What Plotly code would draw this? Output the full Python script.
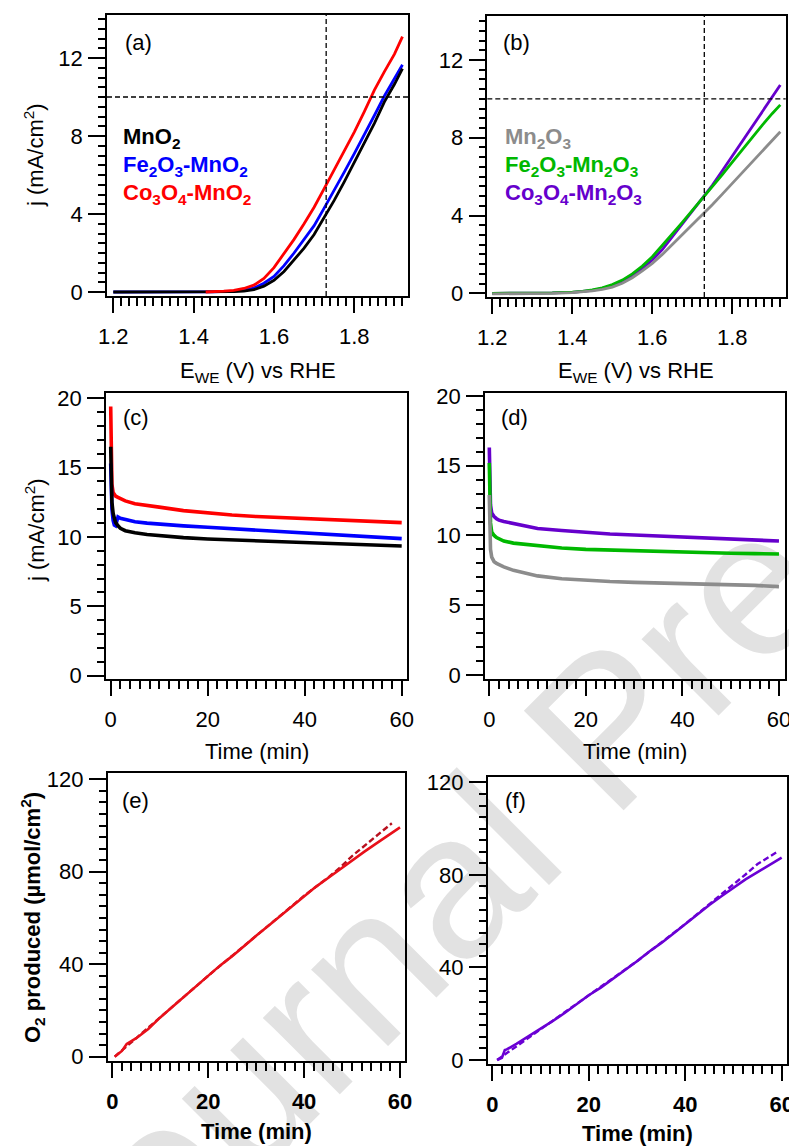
import plotly.graph_objects as go

# ---------------- data ----------------
ref_E = 1.73   # V vs RHE (dashed vertical line)
ref_j = 10     # mA/cm2 (dashed horizontal line)

# (a) LSV
E_a = [1.20, 1.30, 1.40, 1.45, 1.50, 1.525, 1.55, 1.575, 1.60, 1.625, 1.65, 1.675,
       1.70, 1.725, 1.75, 1.775, 1.80, 1.825, 1.85, 1.875, 1.90, 1.92]
j_MnO2 = [0, 0, 0, 0.005, 0.02, 0.05, 0.12, 0.3, 0.6, 1.05, 1.65, 2.25,
          2.95, 3.8, 4.7, 5.65, 6.65, 7.65, 8.65, 9.75, 10.65, 11.45]
j_Fe_MnO2 = [0, 0, 0, 0.005, 0.04, 0.1, 0.2, 0.45, 0.8, 1.35, 2.0, 2.7,
             3.4, 4.3, 5.2, 6.15, 7.1, 8.05, 9.05, 10.05, 10.9, 11.65]
E_a_red = [1.43, 1.45, 1.475, 1.50, 1.525, 1.55, 1.575, 1.60, 1.625, 1.65, 1.675,
           1.70, 1.725, 1.75, 1.775, 1.80, 1.825, 1.85, 1.875, 1.90, 1.92]
j_Co_MnO2 = [0.0, 0.01, 0.04, 0.08, 0.18, 0.35, 0.7, 1.25, 1.95, 2.7, 3.5,
             4.35, 5.3, 6.25, 7.2, 8.2, 9.25, 10.35, 11.3, 12.2, 13.1]

# (b) LSV
E_b = [1.20, 1.25, 1.30, 1.35, 1.40, 1.425, 1.45, 1.475, 1.50, 1.525, 1.55, 1.575, 1.60,
       1.625, 1.65, 1.675, 1.70, 1.725, 1.75, 1.775, 1.80, 1.825, 1.85, 1.875, 1.90, 1.92]
j_Mn2O3 = [-0.03, -0.03, -0.02, 0, 0.04, 0.07, 0.12, 0.2, 0.32, 0.52, 0.8, 1.15, 1.54,
           2.0, 2.5, 3.0, 3.55, 4.05, 4.55, 5.1, 5.65, 6.2, 6.75, 7.3, 7.85, 8.31]
j_Fe_Mn2O3 = [0, 0, 0.01, 0.02, 0.06, 0.1, 0.18, 0.28, 0.45, 0.68, 1.0, 1.4, 1.88,
              2.45, 3.05, 3.65, 4.25, 4.85, 5.45, 6.1, 6.75, 7.4, 8.05, 8.65, 9.25, 9.69]
j_Co_Mn2O3 = [0, 0, 0.01, 0.02, 0.05, 0.09, 0.15, 0.25, 0.4, 0.62, 0.92, 1.28, 1.71,
              2.25, 2.9, 3.55, 4.2, 4.85, 5.55, 6.3, 7.05, 7.8, 8.6, 9.35, 10.1, 10.71]

# (c), (d) chronoamperometry
t_ca = [0, 0.1, 0.25, 0.5, 0.75, 1, 1.5, 2, 3, 5, 7.5, 10, 15, 20, 25, 30, 35, 40, 45, 50, 55, 60]
ca_Co_MnO2 = [19.4, 15.5, 13.8, 13.2, 13.05, 12.95, 12.85, 12.75, 12.6, 12.4, 12.25, 12.15,
              11.9, 11.72, 11.58, 11.47, 11.4, 11.32, 11.25, 11.18, 11.1, 11.03]
ca_Fe_MnO2 = [15.3, 13.5, 12.0, 11.2, 10.85, 10.8, 11.45, 11.35, 11.25, 11.1, 11.0, 10.92,
              10.8, 10.7, 10.6, 10.5, 10.42, 10.33, 10.23, 10.13, 10.0, 9.88]
ca_MnO2 = [16.5, 13.8, 12.5, 11.7, 11.3, 11.05, 10.8, 10.62, 10.45, 10.3, 10.18, 10.1,
           9.95, 9.85, 9.78, 9.73, 9.69, 9.62, 9.55, 9.46, 9.4, 9.35]
ca_Co_Mn2O3 = [16.3, 13.5, 12.2, 11.6, 11.45, 11.35, 11.2, 11.1, 11.0, 10.85, 10.65, 10.5,
               10.35, 10.2, 10.1, 10.03, 9.95, 9.87, 9.8, 9.73, 9.66, 9.6]
ca_Fe_Mn2O3 = [15.2, 12.5, 10.9, 10.25, 10.1, 10.0, 9.85, 9.75, 9.6, 9.45, 9.35, 9.25,
               9.1, 9.0, 8.95, 8.9, 8.85, 8.78, 8.74, 8.72, 8.7, 8.67]
ca_Mn2O3 = [12.9, 10.5, 9.0, 8.45, 8.25, 8.12, 8.0, 7.9, 7.75, 7.5, 7.3, 7.1,
            6.9, 6.77, 6.7, 6.64, 6.6, 6.57, 6.54, 6.5, 6.42, 6.33]

# (e), (f) O2 produced
t_e = [0.5, 2, 3, 5, 7.5, 10, 12.5, 15, 17.5, 20, 22.5, 25, 27.5, 30, 32.5, 35,
       37.5, 40, 42.5, 45, 47.5, 50, 52.5, 55, 57.5, 60]
o2_e = [0, 2.5, 5.5, 8, 12, 17, 21.5, 26, 30.5, 35, 39.5, 43.5, 48, 52.3, 56.5, 60.8,
        65.2, 69.6, 73.6, 77.3, 81.2, 85, 88.6, 92.2, 95.7, 99.2]
t_e_d = [0.5, 10, 20, 30, 40, 45, 47.5, 50, 52.5, 55, 57.5, 58.3]
o2_e_d = [0, 17, 35, 52.3, 69.6, 77.5, 81.8, 86.8, 91.2, 95.6, 99.9, 101.0]
t_f = [1, 2, 2.6, 3, 5, 7.5, 10, 12.5, 15, 17.5, 20, 22.5, 25, 27.5, 30, 32.5, 35,
       37.5, 40, 42.5, 45, 47.5, 50, 52.5, 55, 57.5, 60]
o2_f = [0, 1, 4.3, 4.6, 7, 10.3, 13.3, 16.8, 20.3, 24.2, 28, 31.3, 35, 38.8, 42.7, 46.8,
        50.5, 54.6, 58.8, 63, 67, 70.8, 74.6, 78.1, 81.2, 84.4, 87.5]
t_f_d = [1, 10, 20, 30, 40, 45, 47.5, 50, 52.5, 55, 57.5, 59.3]
o2_f_d = [0, 13.3, 28, 42.7, 58.8, 67.3, 71.5, 75.8, 80.2, 84.7, 88.0, 90.3]

# ---------------- style ----------------
OFF = 8                      # page body margin of the browser
W, H = 797 - OFF, 1146 - OFF
FONT = "Liberation Sans"
FS = 22
C_BLACK, C_BLUE, C_RED = "#000000", "#0000ff", "#ff0000"
C_GRAY, C_GREEN, C_PURPLE = "#8c8c8c", "#00b800", "#6600cc"
C_RED_E, C_RED_E_D = "#e8101a", "#b8101e"
C_PUR_F = "#6a00d4"


def fx(p):
    return (p - OFF) / W


def fy(p):
    return 1 - (p - OFF) / H


def axis(dom, rng, dtick, tick0, mdtick, anchor, ticklen, mticklen, bold=False, fmt=None, standoff=0):
    d = dict(domain=dom, range=rng, anchor=anchor, automargin=False, showline=True,
             linecolor="black", linewidth=1.5,
             mirror=True, ticks="outside", ticklen=ticklen, tickwidth=1.5, tickcolor="black",
             dtick=dtick, tick0=tick0, showgrid=False, zeroline=False,
             minor=dict(ticks="outside", ticklen=mticklen, tickwidth=1.5, tickcolor="black",
                        dtick=mdtick, tick0=tick0, showgrid=False),
             tickfont=dict(family=FONT, size=FS, color="black", weight="bold" if bold else "normal"),
             ticklabelstandoff=standoff)
    if fmt:
        d["tickformat"] = fmt
    return d


fig = go.Figure()


def line(x, y, color, width, ax, dash="solid"):
    fig.add_trace(go.Scatter(x=x, y=y, mode="lines", line=dict(color=color, width=width, dash=dash),
                             xaxis="x" + ax, yaxis="y" + ax, showlegend=False, hoverinfo="skip"))


# (a)
line(E_a, j_Fe_MnO2, C_BLUE, 2.8, "")
line(E_a, j_MnO2, C_BLACK, 2.8, "")
line(E_a_red, j_Co_MnO2, C_RED, 2.8, "")
# (b)
line(E_b, j_Co_Mn2O3, C_PURPLE, 2.8, "2")
line(E_b, j_Fe_Mn2O3, C_GREEN, 2.8, "2")
line(E_b, j_Mn2O3, C_GRAY, 2.8, "2")
# (c)
line(t_ca, ca_Co_MnO2, C_RED, 3.6, "3")
line(t_ca, ca_Fe_MnO2, C_BLUE, 3.6, "3")
line(t_ca, ca_MnO2, C_BLACK, 3.6, "3")
# (d)
line(t_ca, ca_Co_Mn2O3, C_PURPLE, 3.6, "4")
line(t_ca, ca_Fe_Mn2O3, C_GREEN, 3.6, "4")
line(t_ca, ca_Mn2O3, C_GRAY, 3.6, "4")
# (e)
line(t_e_d, o2_e_d, C_RED_E_D, 2.4, "5", dash="6px,3px")
line(t_e, o2_e, C_RED_E, 2.6, "5")
# (f)
line(t_f_d, o2_f_d, C_PUR_F, 2.4, "6", dash="6px,3px")
line(t_f, o2_f, C_PUR_F, 2.6, "6")

# panel geometry (pixels of the page: left, right, top, bottom)
P = {
    "a": (107, 408.3, 15, 296), "b": (487.3, 785.7, 16, 297),
    "c": (106, 406.7, 392.7, 679), "d": (485, 785, 393.3, 679),
    "e": (107.7, 405, 773.3, 1061), "f": (487.7, 786.7, 777.3, 1064),
}


def dom(k):
    l, r, t, b = P[k]
    return [fx(l), fx(r)], [fy(b), fy(t)]


SO = 5
lay = {}
xd, yd = dom("a")
lay["xaxis"] = axis(xd, [1.1843, 1.9345], 0.2, 1.2, 0.02, "y", 15, 8, fmt=".1f", standoff=SO)
lay["yaxis"] = axis(yd, [-0.205, 14.205], 4, 0, 0.5, "x", 17, 7, standoff=1)
xd, yd = dom("b")
lay["xaxis2"] = axis(xd, [1.1875, 1.9335], 0.2, 1.2, 0.02, "y2", 15, 8, fmt=".1f", standoff=SO)
lay["yaxis2"] = axis(yd, [-0.19, 14.26], 4, 0, 0.5, "x2", 17, 7, standoff=1)
xd, yd = dom("c")
lay["xaxis3"] = axis(xd, [-0.97, 61.03], 20, 0, 2, "y3", 15, 8, standoff=SO)
lay["yaxis3"] = axis(yd, [-0.24, 20.40], 5, 0, 1, "x3", 17, 7, standoff=1)
xd, yd = dom("d")
lay["xaxis4"] = axis(xd, [-0.89, 61.25], 20, 0, 2, "y4", 15, 8, standoff=SO)
lay["yaxis4"] = axis(yd, [-0.29, 20.19], 5, 0, 1, "x4", 17, 7, standoff=1)
xd, yd = dom("e")
lay["xaxis5"] = axis(xd, [-0.96, 61.04], 20, 0, 2, "y5", 15, 8, bold=True, standoff=SO)
lay["yaxis5"] = axis(yd, [-1.86, 122.6], 40, 0, 5, "x5", 17, 7, standoff=1)
xd, yd = dom("f")
lay["xaxis6"] = axis(xd, [-0.95, 61.04], 20, 0, 2, "y6", 15, 8, bold=True, standoff=SO)
lay["yaxis6"] = axis(yd, [-1.73, 122.2], 40, 0, 5, "x6", 17, 7, standoff=1)

# reference dashed lines
shapes = []
for xa, ya in (("x", "y"), ("x2", "y2")):
    shapes.append(dict(type="line", xref=xa + " domain", x0=0, x1=1, yref=ya, y0=ref_j, y1=ref_j,
                       line=dict(color="black", width=1.3, dash="5px,3px")))
    shapes.append(dict(type="line", xref=xa, x0=ref_E, x1=ref_E, yref=ya + " domain", y0=0, y1=1,
                       line=dict(color="black", width=1.3, dash="5px,3px")))
# watermark (below data)
shapes.append(dict(type="rect", xref="paper", yref="paper",
                   x0=fx(586), x1=fx(598), y0=fy(720), y1=fy(708), layer="below",
                   line=dict(width=0), fillcolor="rgba(0,0,0,0)",
                   label=dict(text="Journal Pre-proof", textangle=-45, textposition="middle center",
                              font=dict(family=FONT, size=205, color="#e2e2e2"))))

ann = []


def text(s, x, y, size=FS, color="black", bold=False, xanchor="left", yanchor="middle", angle=0):
    ann.append(dict(text=s, x=fx(x), y=fy(y), xref="paper", yref="paper", showarrow=False,
                    xanchor=xanchor, yanchor=yanchor, textangle=angle,
                    font=dict(family=FONT, size=size, color=color, weight="bold" if bold else "normal")))


# panel letters
text("(a)", 123, 42)
text("(b)", 501, 42)
text("(c)", 121, 418)
text("(d)", 499, 418)
text("(e)", 120, 800)
text("(f)", 503, 800)

# legends
text("MnO<sub>2</sub>", 121, 138, bold=True, color=C_BLACK)
text("Fe<sub>2</sub>O<sub>3</sub>-MnO<sub>2</sub>", 121, 166, bold=True, color=C_BLUE)
text("Co<sub>3</sub>O<sub>4</sub>-MnO<sub>2</sub>", 121, 194, bold=True, color=C_RED)
text("Mn<sub>2</sub>O<sub>3</sub>", 503, 138, bold=True, color=C_GRAY)
text("Fe<sub>2</sub>O<sub>3</sub>-Mn<sub>2</sub>O<sub>3</sub>", 503, 166, bold=True, color=C_GREEN)
text("Co<sub>3</sub>O<sub>4</sub>-Mn<sub>2</sub>O<sub>3</sub>", 503, 194, bold=True, color=C_PURPLE)

# axis titles
text("j (mA/cm<sup>2</sup>)", 34, 155, xanchor="center", angle=-90)
text("j (mA/cm<sup>2</sup>)", 35, 530, xanchor="center", angle=-90)
text("O<sub>2</sub> produced (\u00b5mol/cm<sup>2</sup>)", 32, 918, xanchor="center", angle=-90, bold=True)
text("E<sub>WE</sub> (V) vs RHE", 258, 372, xanchor="center")
text("E<sub>WE</sub> (V) vs RHE", 636, 372, xanchor="center")
text("Time (min)", 257, 752, xanchor="center")
text("Time (min)", 635, 752, xanchor="center")
text("Time (min)", 257, 1131, xanchor="center", bold=True)
text("Time (min)", 637, 1133, xanchor="center", bold=True)

fig.update_layout(width=W, height=H, margin=dict(l=0, r=0, t=0, b=0, autoexpand=False),
                  paper_bgcolor="white", plot_bgcolor="rgba(0,0,0,0)",
                  showlegend=False, shapes=shapes, annotations=ann, **lay)

fig.write_html("out.html")
